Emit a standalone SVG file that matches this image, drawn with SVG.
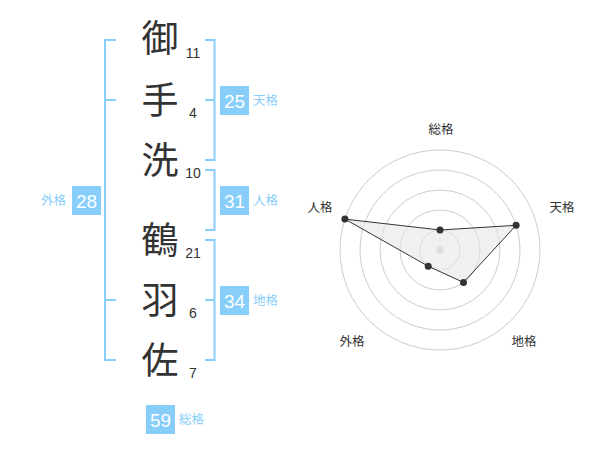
<svg xmlns="http://www.w3.org/2000/svg" width="600" height="470" viewBox="0 0 600 470">
<style>
.kanji{font-family:"Noto Sans CJK JP","Noto Sans CJK SC",sans-serif;font-size:37px;fill:#333;text-anchor:middle}
.num{font-family:"Liberation Sans",Arial,sans-serif;font-size:14px;fill:#333;text-anchor:middle}
.br{fill:none;stroke:#87cefa;stroke-width:2}
.box{fill:#87cefa}
.bnum{font-family:"Liberation Sans",Arial,sans-serif;font-size:19px;fill:#fff;text-anchor:middle}
.lbl{font-family:"Noto Sans CJK JP",sans-serif;font-size:12.5px;fill:#87cefa}
.rl{font-family:"Noto Sans CJK JP",sans-serif;font-size:12.5px;fill:#333;text-anchor:middle}
.ring{fill:none;stroke:#ccc;stroke-width:1}
.dot{fill:#333}
</style>
<rect width="600" height="470" fill="#fff"/>
<g id="connectors">
<path class="br" d="M116,40 H105 V360 H116 M105,100 H116 M105,300 H116"/>
<path class="br" d="M205,40 H214.5 V160 H205 M205,100 H214.5"/>
<path class="br" d="M205,170 H214.5 V230 H205"/>
<path class="br" d="M205,240 H214.5 V360 H205 M205,300 H214.5"/>
</g>
<g id="char1"><text class="kanji" x="160" y="52">御</text><text class="num" x="193" y="58">11</text></g>
<g id="char2"><text class="kanji" x="160" y="114">手</text><text class="num" x="193" y="118">4</text></g>
<g id="char3"><text class="kanji" x="160" y="174">洗</text><text class="num" x="193" y="178">10</text></g>
<g id="char4"><text class="kanji" x="160" y="254">鶴</text><text class="num" x="193" y="258">21</text></g>
<g id="char5"><text class="kanji" x="160" y="314">羽</text><text class="num" x="193" y="318">6</text></g>
<g id="char6"><text class="kanji" x="160" y="374">佐</text><text class="num" x="193" y="378">7</text></g>
<g id="tenkaku"><rect class="box" x="220" y="86" width="29" height="29"/><text class="bnum" x="234.5" y="107.5">25</text><text class="lbl" x="253" y="105">天格</text></g>
<g id="jinkaku"><rect class="box" x="220" y="186" width="29" height="29"/><text class="bnum" x="234.5" y="207.5">31</text><text class="lbl" x="253" y="205">人格</text></g>
<g id="chikaku"><rect class="box" x="220" y="286" width="29" height="29"/><text class="bnum" x="234.5" y="307.5">34</text><text class="lbl" x="253" y="305">地格</text></g>
<g id="gaikaku"><rect class="box" x="72" y="186" width="29" height="29"/><text class="bnum" x="86.5" y="207.5">28</text><text class="lbl" x="66" y="205" text-anchor="end">外格</text></g>
<g id="soukaku"><rect class="box" x="146" y="405" width="29" height="29"/><text class="bnum" x="160.5" y="426.5">59</text><text class="lbl" x="179" y="424">総格</text></g>
<g id="radar">
<circle class="ring" cx="440" cy="250" r="20"/>
<circle class="ring" cx="440" cy="250" r="40"/>
<circle class="ring" cx="440" cy="250" r="60"/>
<circle class="ring" cx="440" cy="250" r="80"/>
<circle class="ring" cx="440" cy="250" r="100"/>
<circle cx="440" cy="250" r="3.5" fill="#ccc"/>
<polygon points="440,230 516.1,225.3 463.5,282.4 428.2,266.2 344.9,219.1" fill="#e6e6e6" fill-opacity="0.6" stroke="#333" stroke-width="1"/>
<circle class="dot" cx="440" cy="230" r="3.5"/>
<circle class="dot" cx="516.1" cy="225.3" r="3.5"/>
<circle class="dot" cx="463.5" cy="282.4" r="3.5"/>
<circle class="dot" cx="428.2" cy="266.2" r="3.5"/>
<circle class="dot" cx="344.9" cy="219.1" r="3.5"/>
<text class="rl" x="441" y="134">総格</text>
<text class="rl" x="562" y="212">天格</text>
<text class="rl" x="320" y="212">人格</text>
<text class="rl" x="352" y="346">外格</text>
<text class="rl" x="524" y="346">地格</text>
</g>
</svg>
